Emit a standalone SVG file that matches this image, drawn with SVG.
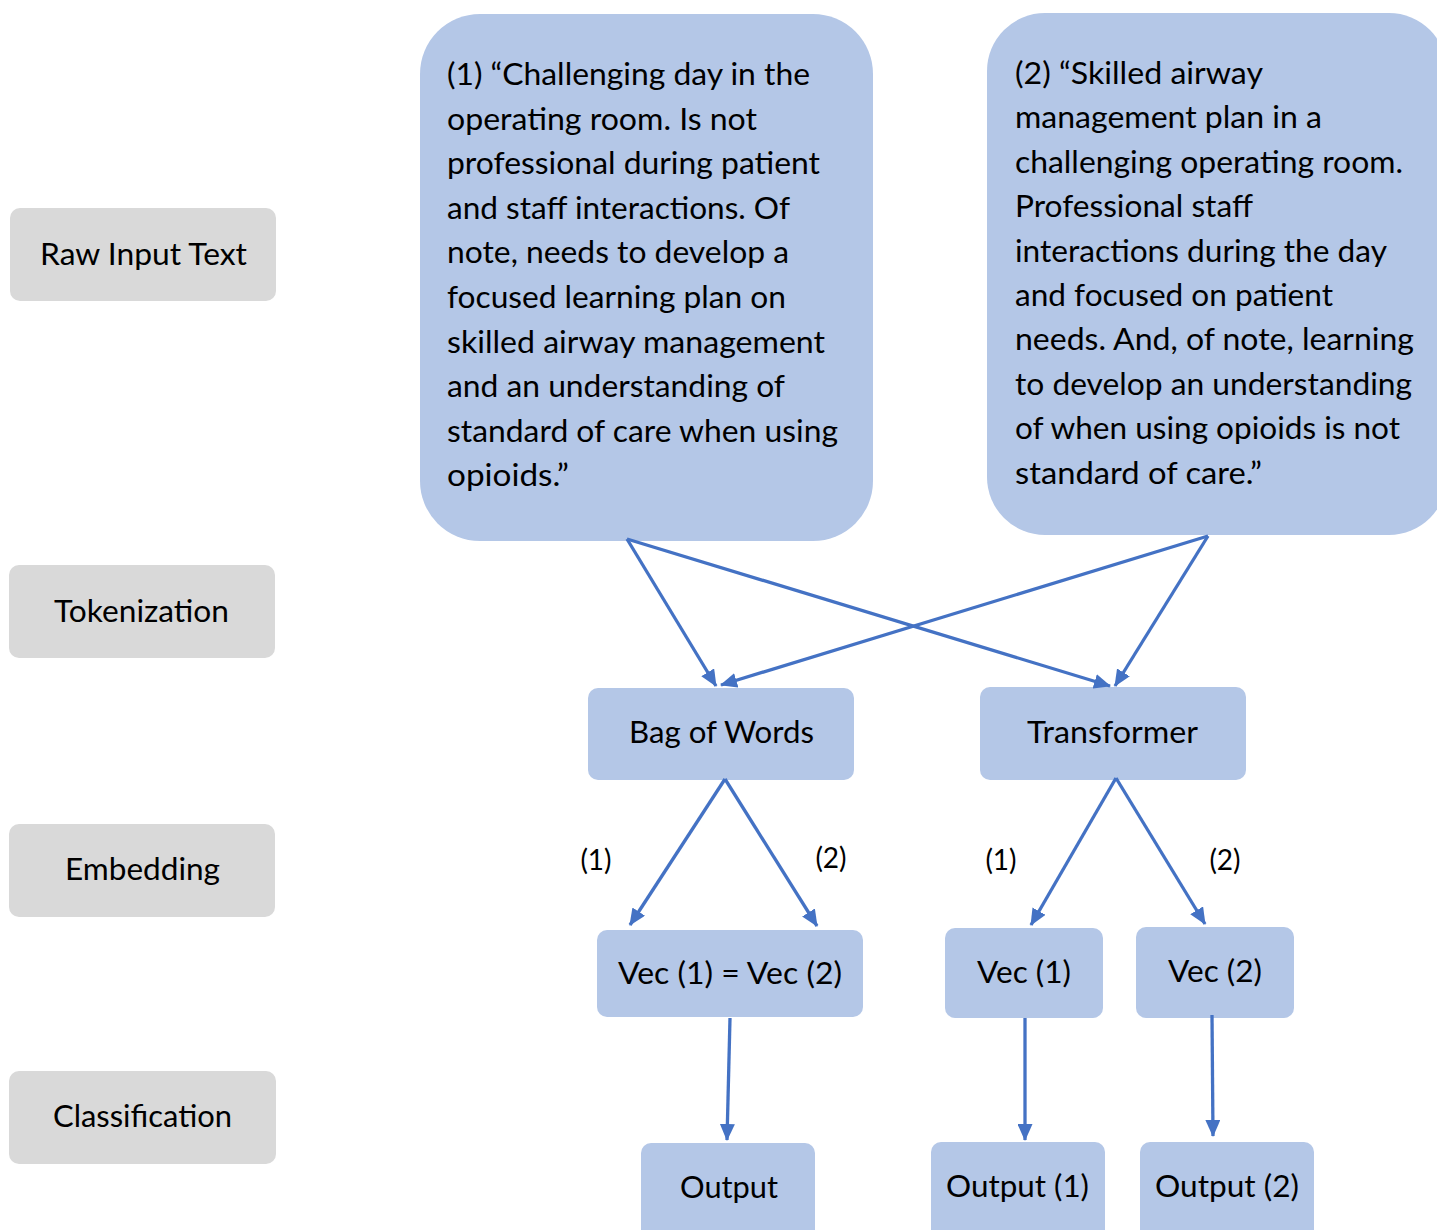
<svg xmlns="http://www.w3.org/2000/svg" width="1437" height="1230" viewBox="0 0 1437 1230">
<defs>
<style>
.gray{fill:#D9D9D9}
.blue{fill:#B4C7E7}
.t{font-family:Lato,"Noto Sans",sans-serif;font-size:31px;fill:#000}
.c{text-anchor:middle}
.p{font-family:Lato,"Noto Sans",sans-serif;font-size:30px;fill:#000}
.lbl{font-family:Lato,"Noto Sans",sans-serif;font-size:28px;fill:#000;text-anchor:middle}
.con{stroke:#4472C4;stroke-width:3.3;fill:none;marker-end:url(#ah)}
</style>
<marker id="ah" viewBox="0 0 17 15" refX="16" refY="7.5" markerWidth="17" markerHeight="15" markerUnits="userSpaceOnUse" orient="auto">
<path d="M0,0 L17,7.5 L0,15 Z" fill="#4472C4"/>
</marker>
</defs>
<rect width="1437" height="1230" fill="#fff"/>

<g id="stage-raw"><rect class="gray" x="10" y="208" width="266" height="93" rx="10"/><text class="t c" x="143.5" y="265" textLength="207" lengthAdjust="spacingAndGlyphs">Raw Input Text</text></g>
<g id="stage-tok"><rect class="gray" x="9" y="565" width="266" height="93" rx="10"/><text class="t c" x="141.5" y="622" textLength="175" lengthAdjust="spacingAndGlyphs">Tokenization</text></g>
<g id="stage-emb"><rect class="gray" x="9" y="824" width="266" height="93" rx="10"/><text class="t c" x="142.5" y="880" textLength="155" lengthAdjust="spacingAndGlyphs">Embedding</text></g>
<g id="stage-cls"><rect class="gray" x="9" y="1071" width="267" height="93" rx="10"/><text class="t c" x="142.5" y="1127" textLength="179" lengthAdjust="spacingAndGlyphs">Classification</text></g>

<g id="text1">
<rect class="blue" x="420" y="14" width="453" height="527" rx="60"/>
<text class="p" x="447" y="85" textLength="363" lengthAdjust="spacingAndGlyphs">(1) “Challenging day in the</text>
<text class="p" x="447" y="129.6" textLength="310" lengthAdjust="spacingAndGlyphs">operating room. Is not</text>
<text class="p" x="447" y="174.2" textLength="373" lengthAdjust="spacingAndGlyphs">professional during patient</text>
<text class="p" x="447" y="218.8" textLength="343" lengthAdjust="spacingAndGlyphs">and staff interactions. Of</text>
<text class="p" x="447" y="263.4" textLength="342" lengthAdjust="spacingAndGlyphs">note, needs to develop a</text>
<text class="p" x="447" y="308" textLength="339" lengthAdjust="spacingAndGlyphs">focused learning plan on</text>
<text class="p" x="447" y="352.6" textLength="378" lengthAdjust="spacingAndGlyphs">skilled airway management</text>
<text class="p" x="447" y="397.2" textLength="338" lengthAdjust="spacingAndGlyphs">and an understanding of</text>
<text class="p" x="447" y="441.8" textLength="391" lengthAdjust="spacingAndGlyphs">standard of care when using</text>
<text class="p" x="447" y="486.4" textLength="122" lengthAdjust="spacingAndGlyphs">opioids.”</text>
</g>

<g id="text2">
<rect class="blue" x="987" y="13" width="460" height="522" rx="58"/>
<text class="p" x="1015" y="84" textLength="248" lengthAdjust="spacingAndGlyphs">(2) “Skilled airway</text>
<text class="p" x="1015" y="128.4" textLength="307" lengthAdjust="spacingAndGlyphs">management plan in a</text>
<text class="p" x="1015" y="172.8" textLength="388" lengthAdjust="spacingAndGlyphs">challenging operating room.</text>
<text class="p" x="1015" y="217.2" textLength="238" lengthAdjust="spacingAndGlyphs">Professional staff</text>
<text class="p" x="1015" y="261.6" textLength="372" lengthAdjust="spacingAndGlyphs">interactions during the day</text>
<text class="p" x="1015" y="306" textLength="318" lengthAdjust="spacingAndGlyphs">and focused on patient</text>
<text class="p" x="1015" y="350.4" textLength="399" lengthAdjust="spacingAndGlyphs">needs. And, of note, learning</text>
<text class="p" x="1015" y="394.8" textLength="397" lengthAdjust="spacingAndGlyphs">to develop an understanding</text>
<text class="p" x="1015" y="439.2" textLength="385" lengthAdjust="spacingAndGlyphs">of when using opioids is not</text>
<text class="p" x="1015" y="483.6" textLength="247" lengthAdjust="spacingAndGlyphs">standard of care.”</text>
</g>

<g id="bow"><rect class="blue" x="588" y="688" width="266" height="92" rx="10"/><text class="t c" x="721.5" y="743" textLength="185" lengthAdjust="spacingAndGlyphs">Bag of Words</text></g>
<g id="transformer"><rect class="blue" x="980" y="687" width="266" height="93" rx="10"/><text class="t c" x="1112.5" y="743" textLength="171" lengthAdjust="spacingAndGlyphs">Transformer</text></g>
<g id="vec-eq"><rect class="blue" x="597" y="930" width="266" height="87" rx="10"/><text class="t c" x="730" y="984" textLength="224" lengthAdjust="spacingAndGlyphs">Vec (1) = Vec (2)</text></g>
<g id="vec1"><rect class="blue" x="945" y="928" width="158" height="90" rx="10"/><text class="t c" x="1024" y="983" textLength="94" lengthAdjust="spacingAndGlyphs">Vec (1)</text></g>
<g id="vec2"><rect class="blue" x="1136" y="927" width="158" height="91" rx="10"/><text class="t c" x="1215" y="982" textLength="94" lengthAdjust="spacingAndGlyphs">Vec (2)</text></g>
<g id="out"><rect class="blue" x="641" y="1143" width="174" height="100" rx="10"/><text class="t c" x="729" y="1198" textLength="98" lengthAdjust="spacingAndGlyphs">Output</text></g>
<g id="out1"><rect class="blue" x="931" y="1142" width="174" height="100" rx="10"/><text class="t c" x="1017.5" y="1197" textLength="143" lengthAdjust="spacingAndGlyphs">Output (1)</text></g>
<g id="out2"><rect class="blue" x="1140" y="1142" width="174" height="100" rx="10"/><text class="t c" x="1227" y="1197" textLength="144" lengthAdjust="spacingAndGlyphs">Output (2)</text></g>

<g id="connectors">
<line class="con" x1="627" y1="539" x2="716" y2="686"/>
<line class="con" x1="627" y1="539" x2="1110" y2="686"/>
<line class="con" x1="1208" y1="536" x2="721" y2="685"/>
<line class="con" x1="1208" y1="536" x2="1115" y2="686"/>
<line class="con" x1="725" y1="779" x2="630" y2="925"/>
<line class="con" x1="725" y1="779" x2="817" y2="926"/>
<line class="con" x1="1116" y1="778" x2="1031" y2="925"/>
<line class="con" x1="1116" y1="778" x2="1205" y2="924"/>
<line class="con" x1="730" y1="1018" x2="727" y2="1140"/>
<line class="con" x1="1025" y1="1018" x2="1025" y2="1140"/>
<line class="con" x1="1212" y1="1015" x2="1213" y2="1136"/>
<text class="lbl" x="596" y="870">(1)</text>
<text class="lbl" x="831" y="868">(2)</text>
<text class="lbl" x="1001" y="870">(1)</text>
<text class="lbl" x="1225" y="870">(2)</text>
</g>
</svg>
